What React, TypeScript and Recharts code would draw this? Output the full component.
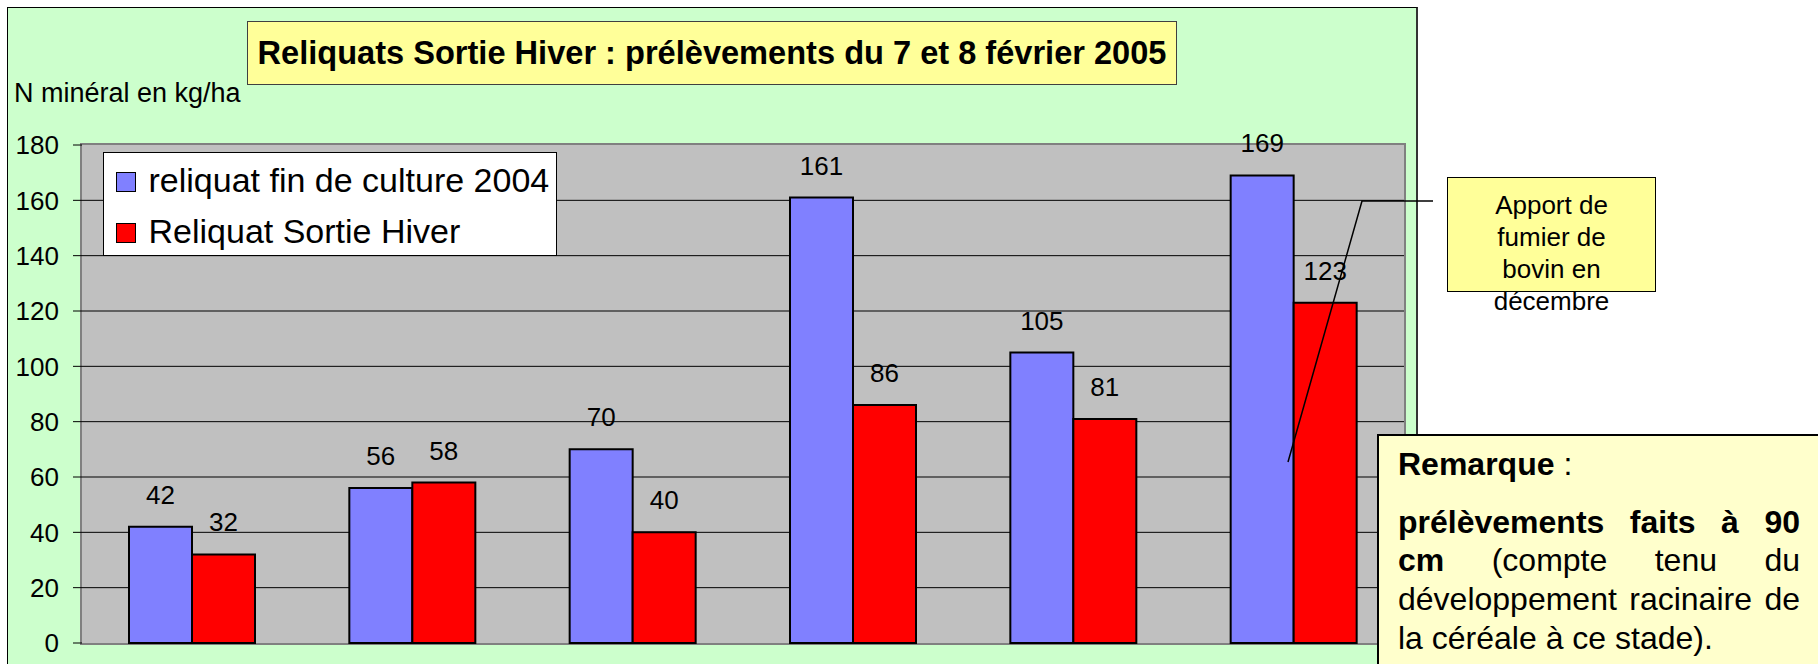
import { BarChart, Bar, XAxis, YAxis, CartesianGrid, Legend, LabelList } from 'recharts';

const FONT = '"Liberation Sans", Arial, sans-serif';

// one group per sampled plot (no category labels shown on the chart)
const parcelles = ['P1', 'P2', 'P3', 'P4', 'P5', 'P6'];
const finCulture2004 = [42, 56, 70, 161, 105, 169];
const sortieHiver = [32, 58, 40, 86, 81, 123];
const yTicks = [0, 20, 40, 60, 80, 100, 120, 140, 160, 180];
const gridValues = [20, 40, 60, 80, 100, 120, 140, 160];
const seriesOrder = ['fin', 'rsh'];

const data = parcelles.map((p, i) => ({
  parcelle: p,
  fin: finCulture2004[i],
  rsh: sortieHiver[i],
}));

const renderLegend = (props: any) => {
  const items = [...(props.payload || [])].sort(
    (a: any, b: any) => seriesOrder.indexOf(a.dataKey) - seriesOrder.indexOf(b.dataKey)
  );
  return (
    <div
      style={{
        position: 'relative', width: 454, height: 104, boxSizing: 'border-box',
        background: '#fff', border: '1.5px solid #000', fontFamily: FONT, fontSize: 34, color: '#000',
      }}
    >
      {items.map((it: any, i: number) => (
        <div key={i}>
          <div
            style={{
              position: 'absolute', left: 11.5, top: 18.5 + i * 51, width: 20, height: 20,
              boxSizing: 'border-box', background: it.color, border: '1.5px solid #000',
            }}
          />
          <div style={{ position: 'absolute', left: 44.5, top: 9.5 + i * 51, lineHeight: '34px', whiteSpace: 'nowrap' }}>
            {it.value}
          </div>
        </div>
      ))}
    </div>
  );
};

export default function App() {
  return (
    <div style={{ position: 'relative', width: 1818, height: 664, overflow: 'hidden', background: '#fff', fontFamily: FONT }}>
      <style>{'body{margin:0}'}</style>

      {/* green chart panel */}
      <div
        style={{
          position: 'absolute', left: 7, top: 7, width: 1411, height: 720, boxSizing: 'border-box',
          background: '#CCFFCC', borderLeft: '1.5px solid #000', borderTop: '1.5px solid #000', borderRight: '2px solid #333',
        }}
      />
      {/* plot frame */}
      <div
        style={{
          position: 'absolute', left: 80, top: 143, width: 1326, height: 502, boxSizing: 'border-box',
          border: '2px solid #808080',
        }}
      />

      <div style={{ position: 'absolute', left: 0, top: 0 }}>
        <BarChart
          width={1420}
          height={664}
          data={data}
          margin={{ top: 145, right: 16, bottom: 21, left: 0 }}
          barGap={0}
        >
          <CartesianGrid vertical={false} horizontalValues={gridValues} stroke="#000" fill="#C0C0C0" fillOpacity={1} />
          <XAxis dataKey="parcelle" hide />
          <YAxis
            domain={[0, 180]}
            ticks={yTicks}
            interval={0}
            width={82}
            axisLine={false}
            tickLine={{ stroke: '#000' }}
            tickSize={9}
            tickMargin={14}
            tick={{ fill: '#000', fontSize: 26, fontFamily: FONT }}
          />
          <Legend
            layout="horizontal"
            align="center"
            verticalAlign="middle"
            content={renderLegend}
            wrapperStyle={{ position: 'absolute', left: 103, top: 152, width: 454, height: 104 }}
          />
          <Bar dataKey="fin" name="reliquat fin de culture 2004" fill="#8080FF" stroke="#000" strokeWidth={2} barSize={63} isAnimationActive={false}>
            <LabelList dataKey="fin" position="top" offset={23} fill="#000" fontSize={26} fontFamily={FONT} />
          </Bar>
          <Bar dataKey="rsh" name="Reliquat Sortie Hiver" fill="#FF0000" stroke="#000" strokeWidth={2} barSize={63} isAnimationActive={false}>
            <LabelList dataKey="rsh" position="top" offset={23} fill="#000" fontSize={26} fontFamily={FONT} />
          </Bar>
        </BarChart>
      </div>

      {/* title */}
      <div
        style={{
          position: 'absolute', left: 247, top: 21, width: 930, height: 64, boxSizing: 'border-box',
          background: '#FFFF99', border: '1.5px solid #404040',
          display: 'flex', alignItems: 'center', justifyContent: 'center',
          fontWeight: 'bold', fontSize: 32.6, lineHeight: 1, whiteSpace: 'nowrap', color: '#000',
        }}
      >
        Reliquats Sortie Hiver : prélèvements du 7 et 8 février 2005
      </div>

      {/* y axis title */}
      <div style={{ position: 'absolute', left: 14, top: 80, fontSize: 27, lineHeight: '27px', whiteSpace: 'nowrap', color: '#000' }}>
        N minéral en kg/ha
      </div>

      {/* leader line of the note */}
      <svg width={1818} height={664} style={{ position: 'absolute', left: 0, top: 0, pointerEvents: 'none' }}>
        <polyline points="1433,201 1362,201 1288,462" fill="none" stroke="#000" strokeWidth={1.5} />
      </svg>

      {/* note box */}
      <div
        style={{
          position: 'absolute', left: 1447, top: 177, width: 209, height: 115, boxSizing: 'border-box',
          background: '#FFFF99', border: '1.5px solid #000',
        }}
      />
      <div
        style={{
          position: 'absolute', left: 1447, top: 189, width: 209, textAlign: 'center',
          fontSize: 26, lineHeight: '32px', color: '#000',
        }}
      >
        Apport de<br />fumier de<br />bovin en<br />décembre
      </div>

      {/* remark box */}
      <div
        style={{
          position: 'absolute', left: 1377, top: 434, width: 460, height: 250, boxSizing: 'border-box',
          background: '#FFFFCC', border: '2px solid #000',
        }}
      />
      <div
        style={{
          position: 'absolute', left: 1398, top: 444.6, width: 402, fontSize: 32, lineHeight: '38.7px',
          color: '#000', textAlign: 'justify',
        }}
      >
        <div><b>Remarque</b> :</div>
        <div style={{ marginTop: 19.3 }}>
          <b>prélèvements faits à 90 cm</b> (compte tenu du développement racinaire de la céréale à ce stade).
        </div>
      </div>
    </div>
  );
}
